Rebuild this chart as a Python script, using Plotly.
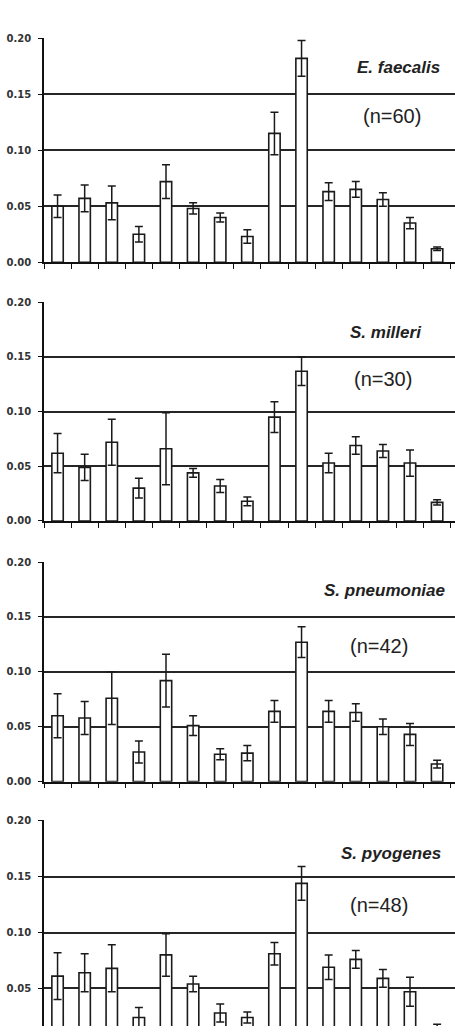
import plotly.graph_objects as go

categories = [str(i) for i in range(1, 16)]
y_tick_values = [0.00, 0.05, 0.10, 0.15, 0.20]
y_tick_labels = ["0.00", "0.05", "0.10", "0.15", "0.20"]

species_names = ["E. faecalis", "S. milleri", "S. pneumoniae", "S. pyogenes"]
sample_sizes = ["(n=60)", "(n=30)", "(n=42)", "(n=48)"]

faecalis_mean = [0.050, 0.057, 0.053, 0.025, 0.072, 0.048, 0.040, 0.023, 0.115, 0.182, 0.063, 0.065, 0.056, 0.035, 0.012]
faecalis_err = [0.010, 0.012, 0.015, 0.007, 0.015, 0.005, 0.004, 0.006, 0.019, 0.016, 0.008, 0.007, 0.006, 0.005, 0.0015]

milleri_mean = [0.062, 0.049, 0.072, 0.030, 0.066, 0.044, 0.032, 0.018, 0.095, 0.137, 0.053, 0.069, 0.064, 0.053, 0.017]
milleri_err = [0.018, 0.012, 0.021, 0.009, 0.033, 0.004, 0.006, 0.004, 0.014, 0.013, 0.009, 0.008, 0.006, 0.012, 0.0025]

pneumoniae_mean = [0.060, 0.058, 0.076, 0.027, 0.092, 0.051, 0.025, 0.026, 0.064, 0.127, 0.064, 0.063, 0.050, 0.043, 0.016]
pneumoniae_err = [0.020, 0.015, 0.024, 0.010, 0.024, 0.009, 0.005, 0.007, 0.010, 0.014, 0.010, 0.008, 0.007, 0.010, 0.0035]

pyogenes_mean = [0.061, 0.064, 0.068, 0.024, 0.080, 0.054, 0.028, 0.024, 0.081, 0.144, 0.069, 0.076, 0.059, 0.047, 0.014]
pyogenes_err = [0.021, 0.017, 0.021, 0.009, 0.019, 0.007, 0.008, 0.005, 0.010, 0.015, 0.011, 0.008, 0.008, 0.013, 0.004]

means = [faecalis_mean, milleri_mean, pneumoniae_mean, pyogenes_mean]
errs = [faecalis_err, milleri_err, pneumoniae_err, pyogenes_err]

W, H = 455, 1032
ML = 44

# pixel layout of panels (top, bottom) and y ranges
panel_px = [(33, 260), (300, 521.5), (562.5, 785), (824, 1032)]
panel_ranges = [[0, 0.2005], [0, 0.2005], [0, 0.2005], [0.0164, 0.2005]]
species_pos = [(398, 63.5), (386, 331), (384.5, 591.7), (391, 857.3)]
n_pos = [(391.5, 112.5), (382.7, 377.7), (379, 648.3), (379, 909.3)]


def px_x(px):
    return (px - ML) / (W - ML)


def px_y(py):
    return 1 - py / H


fig = go.Figure()
layout = {}
annotations = []
for i in range(4):
    k = "" if i == 0 else str(i + 1)
    fig.add_trace(go.Bar(
        x=categories, y=means[i], width=0.42,
        marker=dict(color="white", line=dict(color="#1a1a1a", width=1.6)),
        error_y=dict(type="data", array=errs[i], visible=True, color="#1a1a1a",
                     thickness=1.5, width=4),
        xaxis="x" + k, yaxis="y" + k, showlegend=False,
    ))
    top, bot = panel_px[i]
    last = (i == 3)
    layout["xaxis" + k] = dict(
        domain=[0, 1], anchor="y" + k, type="category",
        categoryorder="array", categoryarray=categories,
        range=[-0.5, 14.66], showticklabels=False,
        tickson="boundaries", ticks="" if last else "outside", ticklen=5,
        tickcolor="#111111", tickwidth=1.2,
        showline=not last, linecolor="#111111", linewidth=1.5,
        showgrid=False, zeroline=False, fixedrange=True,
    )
    layout["yaxis" + k] = dict(
        domain=[px_y(bot), px_y(top)], anchor="x" + k,
        range=panel_ranges[i], tickmode="array",
        tickvals=y_tick_values, ticktext=y_tick_labels,
        ticks="outside", ticklen=4, tickcolor="#111111", tickwidth=1.2,
        ticklabelstandoff=5,
        tickfont=dict(family="DejaVu Sans", size=10, color="#333333", weight="bold"),
        showline=True, linecolor="#111111", linewidth=1.5,
        showgrid=True, gridcolor="#262626", gridwidth=1.6,
        zeroline=False, fixedrange=True,
    )
    sx, sy = species_pos[i]
    annotations.append(dict(
        text="<b><i>" + species_names[i] + "</i></b>", xref="paper", yref="paper",
        x=px_x(sx), y=px_y(sy), xanchor="center", yanchor="middle", showarrow=False,
        font=dict(family="Liberation Sans", size=17, color="#222222"),
    ))
    nx, ny = n_pos[i]
    annotations.append(dict(
        text=sample_sizes[i], xref="paper", yref="paper",
        x=px_x(nx), y=px_y(ny), xanchor="center", yanchor="middle", showarrow=False,
        font=dict(family="Liberation Sans", size=20, color="#222222"),
    ))

fig.update_layout(
    width=W, height=H,
    margin=dict(l=ML, r=0, t=0, b=0),
    paper_bgcolor="white", plot_bgcolor="white",
    annotations=annotations, bargap=0.58,
    **layout,
)

fig.write_html("out.html", config={"displayModeBar": False})
